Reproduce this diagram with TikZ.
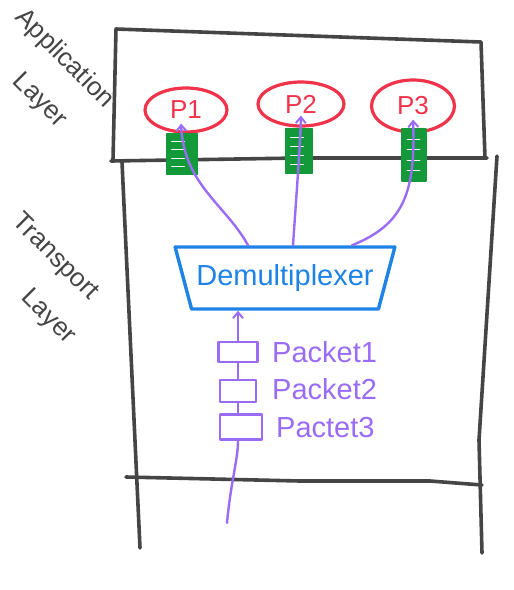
\documentclass[tikz,border=0pt]{standalone}
\usepackage{fontspec}
\setmainfont{Liberation Sans}
\usetikzlibrary{arrows.meta,shapes.geometric,calc}
\definecolor{ink}{HTML}{454545}
\definecolor{pred}{HTML}{F0334A}
\definecolor{pgreen}{HTML}{14993A}
\definecolor{ppurple}{HTML}{9A6CF5}
\definecolor{pblue}{HTML}{1E82E6}
\begin{document}
\begin{tikzpicture}[x=1pt,y=-1pt,line cap=round,line join=round,
  frame/.style={draw=ink,line width=3.6pt},
  layerlabel/.style={text=ink,font=\fontsize{26}{47}\selectfont,inner sep=0,align=left,anchor=north west,rotate=-45},
  proc/.style={ellipse,draw=pred,line width=3.2pt,text=pred,font=\fontsize{26}{28}\selectfont,inner sep=0},
  port/.style={draw=pgreen,fill=pgreen,line width=1.2pt,inner sep=0,
    path picture={\foreach \f in {0.2,0.4,0.6,0.8}{\draw[white,line width=0.9pt]
      ($(path picture bounding box.north west)!\f!(path picture bounding box.south west)+(5pt,0pt)$) -- ++(13pt,0pt);}}},
  demuxbox/.style={trapezium,shape border rotate=180,trapezium stretches=true,draw=pblue,line width=3.4pt,
    minimum width=220pt,minimum height=62pt,trapezium angle=60,text=pblue,font=\fontsize{29}{31}\selectfont,inner sep=0},
  flow/.style={draw=ppurple,line width=2.4pt},
  flowarrow/.style={flow,-{Straight Barb[length=6pt,width=10pt,line width=2pt]}},
  pkt/.style={draw=ppurple,line width=2.4pt,inner sep=0},
  pktlabel/.style={text=ppurple,font=\fontsize{29}{31}\selectfont,anchor=west,inner sep=0}]
\useasboundingbox (0,0) rectangle (514,590);

% layer frames
\draw[frame] (113,160) -- (116,29) -- (481,42) -- (485,158);
\draw[frame] (111,161) -- (300,158) -- (487,158);
\draw[frame] (122,162) -- (140,548);
\draw[frame] (497,156) -- (479,440) -- (482,553);
\draw[frame] (126,477) -- (300,481) -- (430,481) -- (482,485);

% layer labels
\node[layerlabel] (applab) at (28,5) {Application\\\hspace*{43pt}Layer};
\node[layerlabel] (trlab) at (24,210) {Transport\\\hspace*{60pt}Layer};

% processes
\node[proc,minimum width=82pt,minimum height=44pt] (p1) at (186,110) {P1};
\node[proc,minimum width=86pt,minimum height=44pt] (p2) at (301,104) {P2};
\node[proc,minimum width=83pt,minimum height=52pt] (p3) at (413,106) {P3};

% sockets
\node[port,minimum width=31pt,minimum height=41pt] (s1) at (182,154) {};
\node[port,minimum width=27pt,minimum height=44pt] (s2) at (299,151) {};
\node[port,minimum width=24pt,minimum height=52pt] (s3) at (414,155) {};

% demultiplexer
\node[demuxbox] (demux) at (285,278) {Demultiplexer};

% packets
\node[pkt,minimum width=39pt,minimum height=20pt] (k1) at (238,352) {};
\node[pkt,minimum width=36pt,minimum height=22pt] (k2) at (238,391) {};
\node[pkt,minimum width=42pt,minimum height=25pt] (k3) at (241,427) {};
\node[pktlabel] (l1) at (272,352) {Packet1};
\node[pktlabel] (l2) at (272,389) {Packet2};
\node[pktlabel] (l3) at (276,428) {Pactet3};
\coordinate (src) at (227,523);

% flows
\draw[flow] (src) .. controls (231,480) and (238,460) .. (k3.south -| k2.south);
\draw[flow] (k3.north -| k2.north) -- (k2.south);
\draw[flow] (k2.north) -- (k1.south);
\draw[flowarrow] (k1.north) -- (k1.north |- demux.south);
\draw[flowarrow] ([xshift=-37pt]demux.north) .. controls (226,205) and (184,185) .. ([xshift=-5pt,yshift=10pt]p1.south);
\draw[flowarrow] ([xshift=8pt]demux.north) .. controls (296,200) and (300,150) .. ([yshift=12pt]p2.south);
\draw[flowarrow] ([xshift=67pt]demux.north) .. controls (402,225) and (416,195) .. ([yshift=14pt]p3.south);
\end{tikzpicture}
\end{document}
